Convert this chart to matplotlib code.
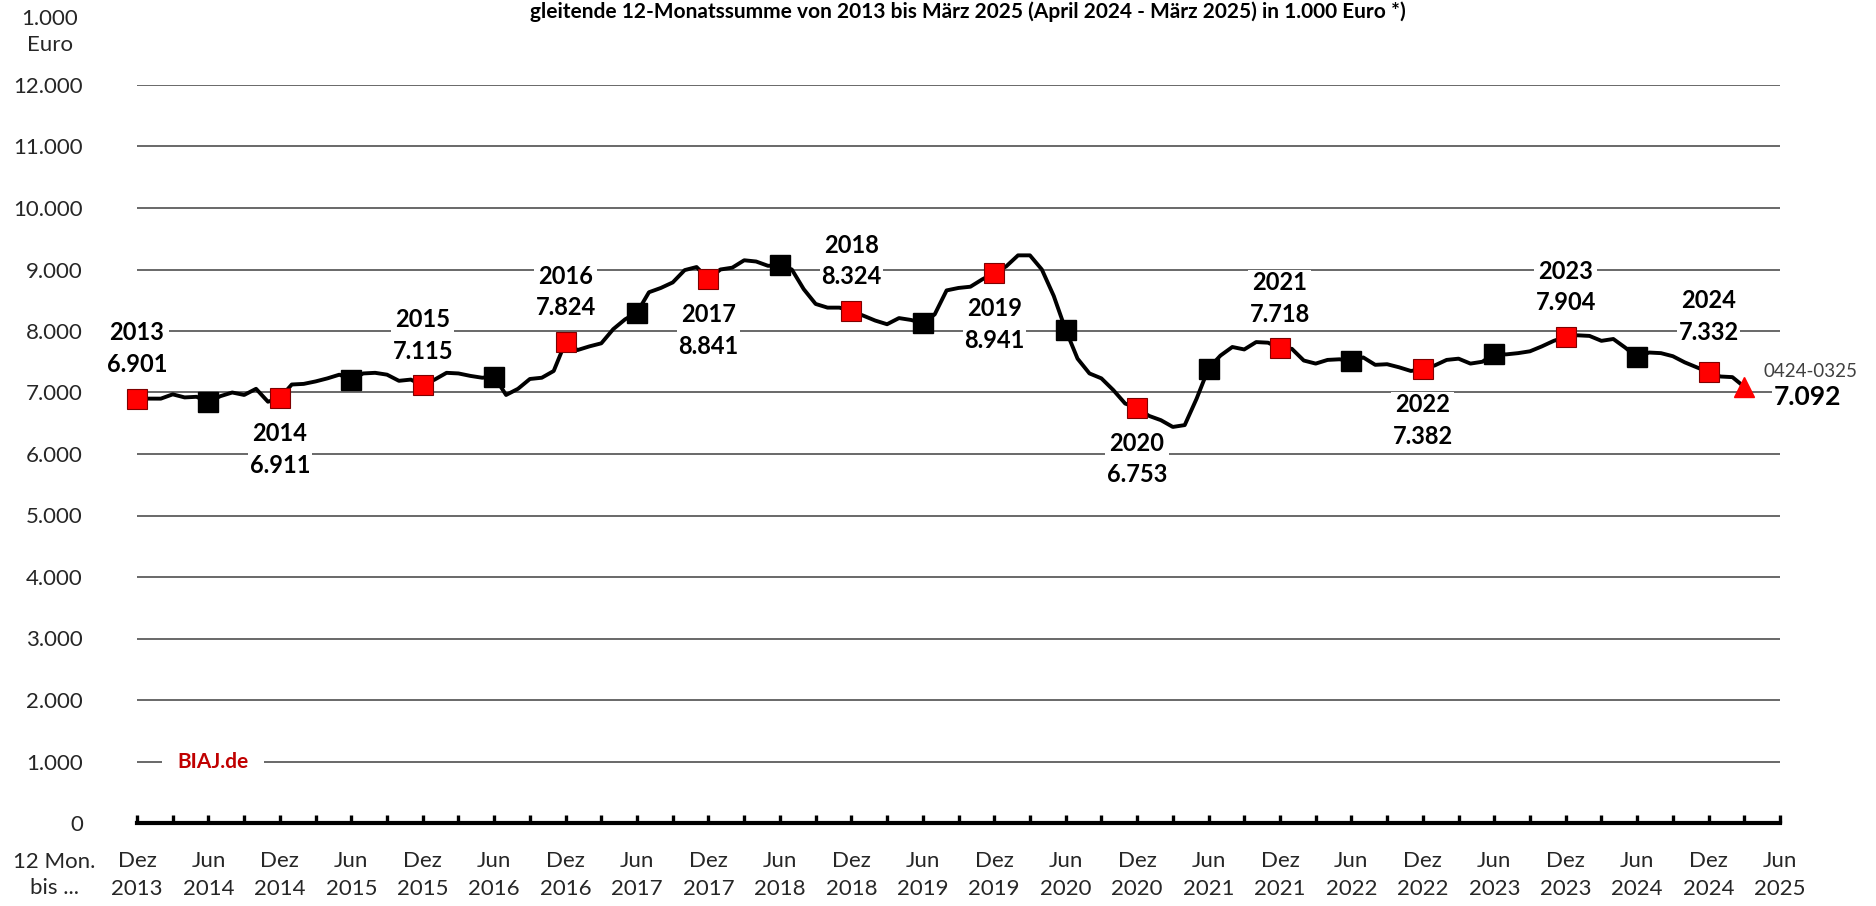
import numpy as np
import matplotlib
matplotlib.use("Agg")
import matplotlib.pyplot as plt
from matplotlib.ticker import FixedLocator, FuncFormatter

# Gleitende 12-Monatssumme in 1.000 Euro, Dez 2013 .. Mär 2025 (monatlich)
values = [
    6901, 6900, 6900, 6970, 6920, 6930, 6845, 6940, 7000, 6960, 7060, 6850,   # Dez13-Nov14
    6911, 7130, 7140, 7180, 7230, 7290, 7210, 7310, 7320, 7290, 7190, 7210,   # Dez14-Nov15
    7115, 7210, 7320, 7310, 7270, 7240, 7260, 6960, 7060, 7220, 7240, 7350,   # Dez15-Nov16
    7824, 7690, 7750, 7800, 8030, 8190, 8300, 8630, 8700, 8790, 8990, 9040,   # Dez16-Nov17
    8841, 9000, 9030, 9150, 9130, 9060, 9070, 9000, 8680, 8440, 8380, 8380,   # Dez17-Nov18
    8324, 8250, 8170, 8110, 8210, 8180, 8130, 8270, 8660, 8700, 8720, 8840,   # Dez18-Nov19
    8941, 9050, 9230, 9230, 9000, 8570, 8020, 7550, 7310, 7230, 7040, 6820,   # Dez19-Nov20
    6753, 6620, 6550, 6440, 6470, 6900, 7390, 7600, 7740, 7700, 7820, 7810,   # Dez20-Nov21
    7718, 7710, 7520, 7470, 7530, 7540, 7510, 7570, 7450, 7460, 7410, 7350,   # Dez21-Nov22
    7382, 7440, 7530, 7550, 7470, 7500, 7630, 7620, 7640, 7670, 7750, 7840,   # Dez22-Nov23
    7904, 7930, 7920, 7840, 7870, 7730, 7570, 7650, 7640, 7590, 7490, 7410,   # Dez23-Nov24
    7332, 7260, 7250, 7092,                                                   # Dez24-Mär25
]

years = ["2013", "2014", "2015", "2016", "2017", "2018",
         "2019", "2020", "2021", "2022", "2023", "2024"]
year_labels = ["6.901", "6.911", "7.115", "7.824", "8.841", "8.324",
               "8.941", "6.753", "7.718", "7.382", "7.904", "7.332"]
# Label ueber (+1) oder unter (-1) dem Dezember-Punkt
label_side = [1, -1, 1, 1, -1, 1, -1, -1, 1, -1, 1, 1]

last_period = "0424-0325"
last_label = "7.092"

x_labels = []
for y in range(2013, 2026):
    if y > 2013:
        x_labels.append(f"Jun\n{y}")
    if y < 2025:
        x_labels.append(f"Dez\n{y}")

y_ticks = list(range(0, 13000, 1000))

plt.rcParams['font.family'] = ['Lato', 'DejaVu Sans']

fig = plt.figure(figsize=(18.76, 9.06), dpi=100)
ax = fig.add_axes([137 / 1876, 1 - 823 / 906, (1780 - 137) / 1876, (823 - 85) / 906])

months = np.arange(len(values))
vals = np.array(values)

# Gitterlinien
for yv in y_ticks[1:]:
    ax.axhline(yv, color="#404040", lw=1.1, zorder=1)

ax.plot(months, vals, color="black", lw=2.8, zorder=3, solid_joinstyle="round",
        clip_on=False)

dec_idx = months[0:-1:12]
jun_idx = months[6::12]
ax.plot(jun_idx, vals[jun_idx], ls="none", marker="s", ms=14, mfc="black",
        mec="black", zorder=4, clip_on=False)
ax.plot(dec_idx, vals[dec_idx], ls="none", marker="s", ms=14, mfc="#FF0000",
        mec="#7F0000", mew=0.8, zorder=4, clip_on=False)
ax.plot(months[-1], vals[-1], ls="none", marker="^", ms=14, mfc="#FF0000",
        mec="#FF0000", zorder=4, clip_on=False)

for i, (yr, lab, side) in enumerate(zip(years, year_labels, label_side)):
    m = dec_idx[i]
    off = 36 if side > 0 else -37
    if yr == "2024":
        off = 40
    ax.annotate(f"{yr}\n{lab}", (m, vals[m]), xytext=(0, off),
                textcoords="offset points", ha="center", va="center",
                fontsize=17, fontweight="bold", linespacing=1.45, zorder=2,
                bbox=dict(facecolor="white", edgecolor="none", pad=1))

ax.annotate(last_period, (months[-1], vals[-1]), xytext=(14, 11),
            textcoords="offset points", ha="left", va="center",
            fontsize=13.5, color="#404040", zorder=2,
            bbox=dict(facecolor="white", edgecolor="none", pad=1))
ax.annotate(last_label, (months[-1], vals[-1]), xytext=(21, -7),
            textcoords="offset points", ha="left", va="center",
            fontsize=19, fontweight="bold", zorder=2,
            bbox=dict(facecolor="white", edgecolor="none", pad=1))

ax.text(6.4, 1000, "BIAJ.de", color="#C00000", fontsize=15,
        fontweight="bold", ha="center", va="center", zorder=2,
        bbox=dict(facecolor="white", edgecolor="none", pad=11))

ax.set_xlim(0, 138)
ax.set_ylim(0, 12000)
for s in ["left", "right", "top"]:
    ax.spines[s].set_visible(False)
ax.spines["bottom"].set_linewidth(3)
ax.spines["bottom"].set_color("black")
ax.spines["bottom"].set_zorder(5)

ax.xaxis.set_major_locator(FixedLocator(np.arange(0, 139, 6)))
ax.xaxis.set_minor_locator(FixedLocator(np.arange(3, 139, 6)))
ax.set_xticklabels(x_labels)
ax.tick_params(axis="x", which="both", direction="in", length=6, width=2.4,
               color="black", labelsize=16, pad=20, labelcolor="#262626")
ax.set_yticks(y_ticks)
ax.yaxis.set_major_formatter(FuncFormatter(lambda v, p: f"{v:,.0f}".replace(",", ".")))
ax.tick_params(axis="y", length=0, labelsize=16, pad=39, labelcolor="#262626")
for lab in ax.get_xticklabels():
    lab.set_linespacing(1.5)

fig.text(50 / 1876, 1 - 32 / 906, "1.000\nEuro", ha="center", va="center",
         fontsize=16, color="#262626", linespacing=1.35)
fig.text(54 / 1876, 1 - 875 / 906, "12 Mon.\nbis ...", ha="center", va="center",
         fontsize=16, color="#262626", linespacing=1.4)
fig.text(968 / 1876, 1 - 18 / 906,
         "gleitende 12-Monatssumme von 2013 bis März 2025 (April 2024 - März 2025) in 1.000 Euro *)",
         ha="center", va="baseline", fontsize=15, fontweight="bold")

fig.savefig("out.png", dpi=100)
